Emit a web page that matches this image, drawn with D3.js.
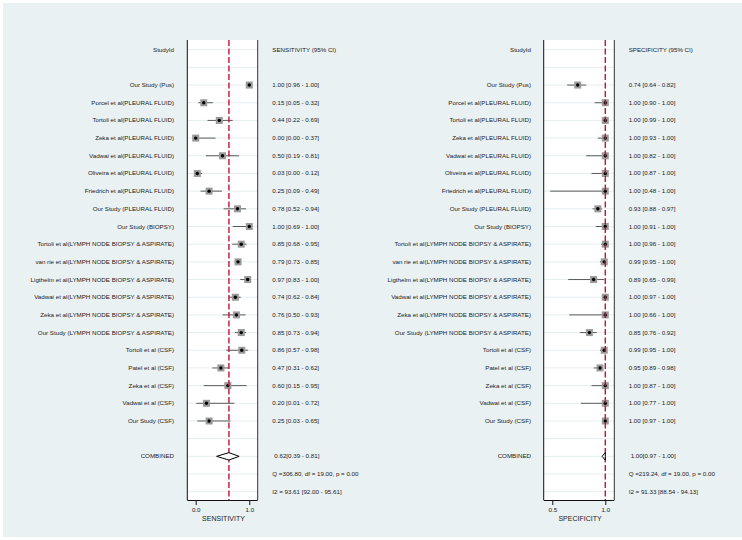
<!DOCTYPE html>
<html><head><meta charset="utf-8">
<script src="https://cdn.jsdelivr.net/npm/d3@7"></script>
<style>body{margin:0;background:#fff}svg{display:block}text{font-family:"Liberation Sans",Arial,sans-serif;fill:#1a1a1a}</style>
</head><body><svg id="c" width="742" height="540"></svg>
<script>
const studies = [
 "Our Study (Pus)","Porcel et al(PLEURAL FLUID)","Tortoli et al(PLEURAL FLUID)","Zeka et al(PLEURAL FLUID)",
 "Vadwai et al(PLEURAL FLUID)","Oliveira et al(PLEURAL FLUID)","Friedrich et al(PLEURAL FLUID)","Our Study (PLEURAL FLUID)",
 "Our Study (BIOPSY)","Tortoli et al(LYMPH NODE BIOPSY & ASPIRATE)","van rie et al(LYMPH NODE BIOPSY & ASPIRATE)",
 "Ligthelm et al(LYMPH NODE BIOPSY & ASPIRATE)","Vadwai et al(LYMPH NODE BIOPSY & ASPIRATE)","Zeka et al(LYMPH NODE BIOPSY & ASPIRATE)",
 "Our Study (LYMPH NODE BIOPSY & ASPIRATE)","Tortoli et al (CSF)","Patel et al (CSF)","Zeka et al (CSF)","Vadwai et al (CSF)","Our Study (CSF)"];
const sensEst = [1.00,0.15,0.44,0.00,0.50,0.03,0.25,0.78,1.00,0.85,0.79,0.97,0.74,0.76,0.85,0.86,0.47,0.60,0.20,0.25];
const sensLo  = [0.96,0.05,0.22,0.00,0.19,0.00,0.09,0.52,0.69,0.68,0.73,0.83,0.62,0.50,0.73,0.57,0.31,0.15,0.01,0.03];
const sensHi  = [1.00,0.32,0.69,0.37,0.81,0.12,0.49,0.94,1.00,0.95,0.85,1.00,0.84,0.93,0.94,0.98,0.62,0.95,0.72,0.65];
const specEst = [0.74,1.00,1.00,1.00,1.00,1.00,1.00,0.93,1.00,1.00,0.99,0.89,1.00,1.00,0.85,0.99,0.95,1.00,1.00,1.00];
const specLo  = [0.64,0.90,0.99,0.93,0.82,0.87,0.48,0.88,0.91,0.96,0.95,0.65,0.97,0.66,0.76,0.95,0.89,0.87,0.77,0.97];
const specHi  = [0.82,1.00,1.00,1.00,1.00,1.00,1.00,0.97,1.00,1.00,1.00,0.99,1.00,1.00,0.92,1.00,0.98,1.00,1.00,1.00];
const sensCombined = [0.62,0.39,0.81];
const specCombined = [1.00,0.97,1.00];
const sensStats = ["Q =306.80, df = 19.00, p =  0.00","I2 = 93.61 [92.00 - 95.61]"];
const specStats = ["Q =219.24, df = 19.00, p =  0.00","I2 = 91.33 [88.54 - 94.13]"];
const sensTicks = [0.0,1.0];
const specTicks = [0.5,1.0];

const svg = d3.select("#c");
svg.append("rect").attr("x",3).attr("y",3).attr("width",739).attr("height",534).attr("fill","#eaf1f3");

const nRows = 26;
const y = d3.scaleLinear().domain([0,25]).range([49.7,491.7]);
const f2 = d => d.toFixed(2);

function panel(o){
  const x = d3.scaleLinear().domain(o.domain).range([o.px0,o.px1]);
  const top=40,bot=500;
  const g = svg.append("g");
  g.append("rect").attr("x",o.px0).attr("y",top).attr("width",o.px1-o.px0).attr("height",bot-top).attr("fill","#fff");
  // row grid lines
  g.selectAll("line.grid").data(d3.range(nRows)).join("line")
    .attr("x1",o.px0).attr("x2",o.px1).attr("y1",d=>y(d)).attr("y2",d=>y(d))
    .attr("stroke","#e6eef0").attr("stroke-width",1);
  // labels
  const labX=o.labX, valX=o.valX;
  g.append("text").attr("x",labX).attr("y",y(0)+2).attr("text-anchor","end").attr("font-size",6.2).text("StudyId");
  g.append("text").attr("x",valX).attr("y",y(0)+2).attr("font-size",6.2).text(o.title+" (95% CI)");
  const rows = studies.map((s,i)=>({s,i,e:o.est[i],lo:o.lo[i],hi:o.hi[i]}));
  g.selectAll("text.lab").data(rows).join("text").attr("x",labX).attr("y",d=>y(d.i+2)+2)
    .attr("text-anchor","end").attr("font-size",6.2).text(d=>d.s);
  g.selectAll("text.val").data(rows).join("text").attr("x",valX).attr("y",d=>y(d.i+2)+2)
    .attr("font-size",6.2).text(d=>`${f2(d.e)} [${f2(d.lo)} - ${f2(d.hi)}]`);
  // CI lines
  g.selectAll("line.ci").data(rows).join("line")
    .attr("x1",d=>x(d.lo)).attr("x2",d=>x(d.hi)).attr("y1",d=>y(d.i+2)).attr("y2",d=>y(d.i+2))
    .attr("stroke","#4a4a4a").attr("stroke-width",0.9);
  const bs=7;
  g.selectAll("rect.box").data(rows).join("rect")
    .attr("x",d=>x(d.e)-bs/2).attr("y",d=>y(d.i+2)-bs/2).attr("width",bs).attr("height",bs).attr("fill","#9a9a9a");
  g.selectAll("circle.pt").data(rows).join("circle")
    .attr("cx",d=>x(d.e)).attr("cy",d=>y(d.i+2)).attr("r",1.7).attr("fill","#000");
  // combined
  const c=o.comb, yc=y(23);
  g.append("line").attr("x1",x(c[0])).attr("x2",x(c[0])).attr("y1",top).attr("y2",bot)
    .attr("stroke","#c0143c").attr("stroke-width",1.4).attr("stroke-dasharray","6,2.5");
  g.append("path").attr("d",`M${x(c[1])},${yc}L${x(c[0])},${yc-3.7}L${x(c[2])},${yc}L${x(c[0])},${yc+3.7}Z`)
    .attr("fill","#fff").attr("stroke","#000").attr("stroke-width",1);
  g.append("text").attr("x",labX).attr("y",yc+2).attr("text-anchor","end").attr("font-size",6.2).text("COMBINED");
  g.append("text").attr("x",valX+2).attr("y",yc+2).attr("font-size",6.2).text(`${f2(c[0])}[${f2(c[1])} - ${f2(c[2])}]`);
  o.stats.forEach((s,k)=>g.append("text").attr("x",valX).attr("y",y(24+k)+2).attr("font-size",6.2).text(s));
  // borders
  g.append("line").attr("x1",o.px0).attr("x2",o.px0).attr("y1",top).attr("y2",bot).attr("stroke","#111").attr("stroke-width",1);
  g.append("line").attr("x1",o.px1).attr("x2",o.px1).attr("y1",top).attr("y2",bot).attr("stroke","#333").attr("stroke-width",1);
  // axis
  const ax = g.append("g").attr("transform",`translate(0,${bot})`)
    .call(d3.axisBottom(x).tickValues(o.ticks).tickFormat(d3.format(".1f")).tickSize(5).tickPadding(3));
  ax.select(".domain").attr("stroke","#111").attr("d",`M${o.px0},0.5H${o.px1}`);
  ax.selectAll(".tick line").attr("stroke","#111");
  ax.selectAll(".tick text").attr("font-size",6.2).attr("font-family","Liberation Sans, Arial, sans-serif").attr("fill","#1a1a1a");
  g.append("text").attr("x",(o.px0+o.px1)/2+1).attr("y",521).attr("text-anchor","middle").attr("font-size",7).text(o.axisTitle);
}

panel({domain:[-0.157,1.157],px0:187.3,px1:257.7,labX:174,valX:272.3,title:"SENSITIVITY",
  est:sensEst,lo:sensLo,hi:sensHi,comb:sensCombined,stats:sensStats,ticks:sensTicks,axisTitle:"SENSITIVITY"});
panel({domain:[0.419,1.085],px0:543.7,px1:614.3,labX:531,valX:628.7,title:"SPECIFICITY",
  est:specEst,lo:specLo,hi:specHi,comb:specCombined,stats:specStats,ticks:specTicks,axisTitle:"SPECIFICITY"});
</script></body></html>
